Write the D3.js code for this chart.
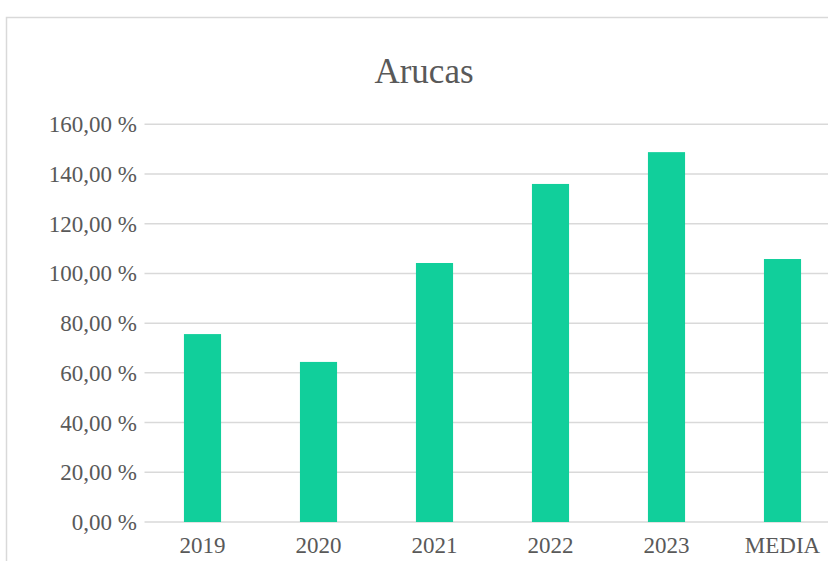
<!DOCTYPE html>
<html>
<head>
<meta charset="utf-8">
<script src="https://cdn.jsdelivr.net/npm/d3@7"></script>
<style>
  html, body { margin: 0; padding: 0; background: #fff; overflow: hidden; }
  text { font-family: "Liberation Serif", "Times New Roman", serif; fill: #595959; }
</style>
</head>
<body>
<script>
// Data
const categories = ['2019', '2020', '2021', '2022', '2023', 'MEDIA'];
const values = [75.6, 64.4, 104.2, 136.0, 148.8, 105.8];
const yTicks = [0, 20, 40, 60, 80, 100, 120, 140, 160];
const chartTitle = 'Arucas';

const w = 828;
const h = 561;
const svg = d3.select('body')
              .append('svg')
              .attr('width', w)
              .attr('height', h);

// chart area border (runs off the right and bottom edges)
svg.append('rect')
   .attr('x', 6.5)
   .attr('y', 17.5)
   .attr('width', 900)
   .attr('height', 700)
   .attr('fill', '#fff')
   .attr('stroke', '#d9d9d9')
   .attr('stroke-width', 1.5);

const plotLeft = 144.5;
const plotRight = 840.5;

const xScale = d3.scaleBand()
                 .domain(categories)
                 .range([plotLeft, plotRight])
                 .paddingInner(0.68)
                 .paddingOuter(0.34);

const yScale = d3.scaleLinear()
                 .domain([0, 160])
                 .range([522, 124.3]);

const fmt = v => v.toFixed(2).replace('.', ',') + ' %';

// gridlines
svg.append('g')
   .selectAll('line')
   .data(yTicks)
   .enter()
   .append('line')
   .attr('x1', plotLeft)
   .attr('x2', plotRight)
   .attr('y1', d => yScale(d))
   .attr('y2', d => yScale(d))
   .attr('stroke', '#d9d9d9')
   .attr('stroke-width', 1.5);

// y labels
svg.append('g')
   .selectAll('text')
   .data(yTicks)
   .enter()
   .append('text')
   .attr('x', 137)
   .attr('y', d => yScale(d))
   .attr('dy', '0.35em')
   .attr('text-anchor', 'end')
   .style('font-size', '23px')
   .text(d => fmt(d));

// bars
svg.selectAll('rect.bar')
   .data(values)
   .enter()
   .append('rect')
   .attr('class', 'bar')
   .attr('x', (d, i) => xScale(categories[i]))
   .attr('width', xScale.bandwidth())
   .attr('y', d => yScale(d))
   .attr('height', d => yScale(0) - yScale(d))
   .attr('fill', '#11cf9b');

// x labels
svg.append('g')
   .selectAll('text')
   .data(categories)
   .enter()
   .append('text')
   .attr('x', d => xScale(d) + xScale.bandwidth() / 2)
   .attr('y', 553)
   .attr('text-anchor', 'middle')
   .style('font-size', '23px')
   .text(d => d);

// title
svg.append('text')
   .attr('x', 424)
   .attr('y', 83)
   .attr('text-anchor', 'middle')
   .style('font-size', '35px')
   .text(chartTitle);
</script>
</body>
</html>
